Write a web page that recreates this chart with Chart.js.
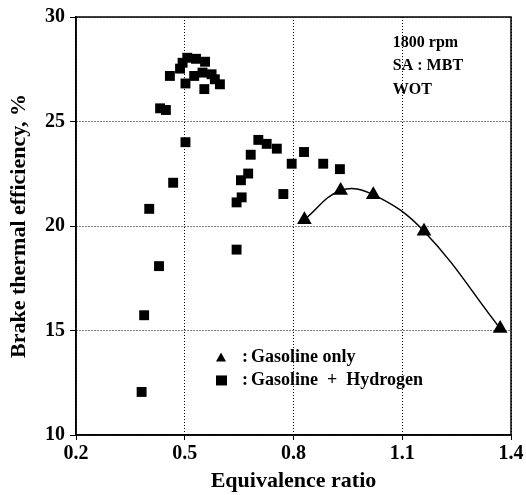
<!DOCTYPE html>
<html>
<head>
<meta charset="utf-8">
<script src="https://cdn.jsdelivr.net/npm/chart.js@4"></script>
<style>
    body { margin: 0; background: #fff; }
    #box { width: 526px; height: 495px; position: relative; }
</style>
</head>
<body>
<div id="box"><canvas id="myChart"></canvas></div>
<script>
// gasoline + hydrogen (squares)
var h2Phi = [0.381, 0.388, 0.402, 0.429, 0.432, 0.448, 0.459, 0.468, 0.487, 0.494, 0.502, 0.502, 0.507, 0.526, 0.531, 0.549, 0.554, 0.556, 0.574, 0.583, 0.597,
             0.643, 0.657, 0.643, 0.655, 0.675, 0.682, 0.703, 0.726, 0.754, 0.772, 0.795, 0.829, 0.882, 0.928];
var h2Eff = [12.06, 15.73, 20.82, 18.08, 25.63, 25.55, 27.18, 22.07, 27.53, 27.81, 24.01, 26.82, 28.05, 27.18, 28.0, 27.34, 26.55, 27.86, 27.26, 27.02, 26.78,
             18.87, 21.37, 21.13, 22.19, 22.51, 23.41, 24.12, 23.93, 23.70, 21.53, 22.98, 23.54, 22.98, 22.72];

// gasoline only (triangles)
var gasPhi = [0.83, 0.93, 1.02, 1.16, 1.37];
var gasEff = [20.3, 21.7, 21.5, 19.75, 15.1];

var xTicks = [0.2, 0.5, 0.8, 1.1, 1.4];
var yTicks = [10, 15, 20, 25, 30];

var noteLines = ["1800 rpm", "SA : MBT", "WOT"];
var legendLines = ["Gasoline only", "Gasoline  +  Hydrogen"];

var serif = "'Liberation Serif', 'DejaVu Serif', serif";

function toPoints(xs, ys){
    let pts = [];
    for (let i = 0; i < xs.length; i++) {
        pts.push({x: xs[i], y: ys[i]});
    }
    return pts;
}

// frame + text notes drawn on top
const extras = {
    id: 'extras',
    afterDraw(chart){
        const ctx = chart.ctx;
        const a = chart.chartArea;
        const xs = chart.scales.x;
        const ys = chart.scales.y;
        ctx.save();
        ctx.strokeStyle = '#000';
        ctx.lineWidth = 1.5;
        ctx.strokeRect(a.left, a.top, a.right - a.left, a.bottom - a.top);

        ctx.fillStyle = '#000';
        ctx.textBaseline = 'middle';
        ctx.textAlign = 'left';
        ctx.font = "bold 16px " + serif;
        let nx = xs.getPixelForValue(1.074);
        for (let i = 0; i < noteLines.length; i++) {
            ctx.fillText(noteLines[i], nx, ys.getPixelForValue(28.76 - i * 1.12));
        }

        // legend
        ctx.font = "bold 18px " + serif;
        let lx = xs.getPixelForValue(0.6);
        let ly1 = ys.getPixelForValue(13.71);
        let ly2 = ys.getPixelForValue(12.61);
        ctx.beginPath();
        ctx.moveTo(lx - 5, ly1 + 4);
        ctx.lineTo(lx + 5, ly1 + 4);
        ctx.lineTo(lx, ly1 - 5);
        ctx.closePath();
        ctx.fill();
        ctx.fillRect(lx - 5, ly2 - 5, 11, 10);
        ctx.fillText(":", lx + 21, ly1);
        ctx.fillText(":", lx + 21, ly2);
        ctx.fillText(legendLines[0], lx + 30, ly1);
        ctx.fillText(legendLines[1], lx + 30, ly2);
        ctx.restore();
    }
};

new Chart("myChart", {
    type: "scatter",
    data: {
        datasets: [{
            label: 'Gasoline + Hydrogen',
            data: toPoints(h2Phi, h2Eff),
            pointStyle: 'rect',
            pointRadius: 7,
            backgroundColor: '#000',
            borderColor: '#000',
            borderWidth: 0,
            showLine: false
        }, {
            label: 'Gasoline only',
            data: toPoints(gasPhi, gasEff),
            pointStyle: 'triangle',
            pointRadius: 7,
            backgroundColor: '#000',
            borderColor: '#000',
            borderWidth: 1.5,
            showLine: true,
            tension: 0.4,
            fill: false
        }]
    },
    options: {
        responsive: true,
        maintainAspectRatio: false,
        animation: false,
        layout: { padding: { top: 14, right: 15, left: 0, bottom: 0 } },
        plugins: {
            legend: { display: false },
            tooltip: { enabled: false }
        },
        scales: {
            x: {
                type: 'linear',
                min: 0.2,
                max: 1.4,
                afterBuildTicks: function(scale){
                    scale.ticks = xTicks.map(v => ({value: v}));
                },
                afterFit: function(scale){ scale.height = 60; },
                ticks: {
                    color: '#000',
                    padding: 2,
                    font: { family: serif, size: 20, weight: 'bold' },
                    callback: v => v.toFixed(1)
                },
                grid: {
                    color: '#000',
                    lineWidth: 1,
                    tickLength: 5,
                    tickBorderDash: []
                },
                border: { color: '#000', width: 1.5, dash: [1, 2] },
                title: {
                    display: true,
                    text: 'Equivalence ratio',
                    color: '#000',
                    font: { family: serif, size: 22, weight: 'bold' },
                    padding: { top: 0, bottom: 0 }
                }
            },
            y: {
                type: 'linear',
                min: 10,
                max: 30,
                afterBuildTicks: function(scale){
                    scale.ticks = yTicks.map(v => ({value: v}));
                },
                afterFit: function(scale){ scale.width = 76; },
                ticks: {
                    color: '#000',
                    padding: 5,
                    font: { family: serif, size: 20, weight: 'bold' }
                },
                grid: {
                    color: '#000',
                    lineWidth: 1,
                    tickLength: 6,
                    tickBorderDash: []
                },
                border: { color: '#000', width: 1.5, dash: [1, 2] },
                title: {
                    display: true,
                    text: 'Brake thermal efficiency, %',
                    color: '#000',
                    font: { family: serif, size: 22, weight: 'bold' },
                    padding: { top: 6, bottom: 0 }
                }
            }
        }
    },
    plugins: [extras]
});
</script>
</body>
</html>
